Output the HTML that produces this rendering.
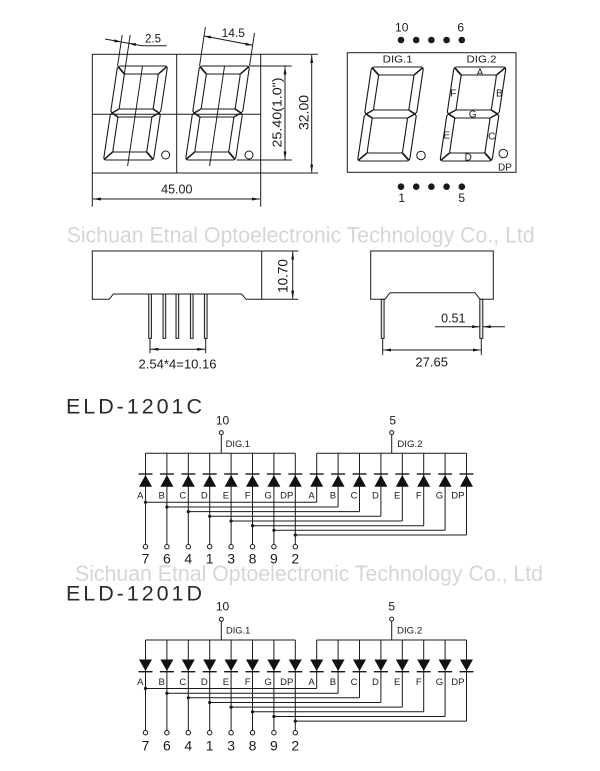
<!DOCTYPE html>
<html>
<head>
<meta charset="utf-8">
<style>
html,body{margin:0;padding:0;background:#fff;}
svg{display:block}
</style>
</head>
<body>
<svg width="600" height="771" viewBox="0 0 600 771" xmlns="http://www.w3.org/2000/svg" font-family="'Liberation Sans', Arial, sans-serif">
<defs>
  <marker id="a" viewBox="0 0 8 3" refX="8" refY="1.5" markerWidth="8" markerHeight="3" markerUnits="userSpaceOnUse" orient="auto-start-reverse">
    <path d="M0,0 L8,1.5 L0,3 Z" fill="#1a1a1a"/>
  </marker>
  <g id="dg" fill="none" stroke="#1a1a1a" stroke-width="1.1">
    <path d="M3,-94 H47 Q50,-94 50,-91 V-49 L48.5,-47 L50,-45 V-3 Q50,0 47,0 H3 Q0,0 0,-3 V-45 L1.5,-47 L0,-49 V-91 Q0,-94 3,-94 Z"/>
    <path d="M9,-86 H41 L42,-85 V-52 L41,-51 H9 L8,-52 V-85 Z"/>
    <path d="M9,-43 H41 L42,-42 V-9 L41,-8 H9 L8,-9 V-42 Z"/>
    <path d="M0.9,-93.1 L8,-86 M49.1,-93.1 L42,-86 M0.9,-0.9 L8,-8 M49.1,-0.9 L42,-8 M1.5,-47 L8,-51 M1.5,-47 L8,-43 M48.5,-47 L42,-51 M48.5,-47 L42,-43" stroke-width="1.6"/>
  </g>
  <g id="du">
    <path d="M-7,0 H7" stroke="#1a1a1a" stroke-width="1.4" fill="none"/>
    <path d="M0,1 L6.5,12.7 L-6.5,12.7 Z" fill="#111"/>
  </g>
  <g id="dd">
    <path d="M-6.5,0 L6.5,0 L0,11.5 Z" fill="#111"/>
    <path d="M-7,12.2 H7" stroke="#1a1a1a" stroke-width="1.4" fill="none"/>
  </g>
</defs>
<rect width="600" height="771" fill="#fff"/>

<!-- watermarks -->
<text x="66.7" y="242.5" font-size="22" fill="#d6d6d6" textLength="468" lengthAdjust="spacingAndGlyphs">Sichuan Etnal Optoelectronic Technology Co., Ltd</text>
<text x="75" y="581" font-size="22" fill="#d6d6d6" textLength="468" lengthAdjust="spacingAndGlyphs">Sichuan Etnal Optoelectronic Technology Co., Ltd</text>

<!-- ============ TOP LEFT FRONT VIEW ============ -->
<g fill="none" stroke="#1a1a1a" stroke-width="1">
  <rect x="92.3" y="54.3" width="168.4" height="118.7"/>
  <path d="M176.7,54.3 V173 M92.3,114.3 H260.7"/>
  <path d="M260.7,54.3 H318 M260.7,173 H318 M250,66 H291.7 M236.7,160 H291.7 M92.3,173 V206.7 M260.7,173 V206.7"/>
  <path d="M311.7,55 V172.3" marker-start="url(#a)" marker-end="url(#a)"/>
  <path d="M285,66.5 V159.5" marker-start="url(#a)" marker-end="url(#a)"/>
  <path d="M93,199 H260" marker-start="url(#a)" marker-end="url(#a)"/>
  <path d="M105,39 L141.7,45.7 H166.7"/>
  <path d="M204,36 L252.5,45.3"/>
  <circle cx="165.7" cy="155" r="4"/>
  <circle cx="249" cy="155" r="4"/>
</g>
<g fill="#1a1a1a">
  <polygon points="121.3,41.98 114.67,39.24 114.13,42.2"/>
  <polygon points="128.9,43.36 136.07,43.14 135.53,46.1"/>
  <polygon points="204,36 211.18,35.85 210.62,38.79"/>
  <polygon points="252.5,45.3 245.9,42.5 245.3,45.5"/>
</g>
<use href="#dg" transform="translate(103.5,160) skewX(-8.5)"/>
<use href="#dg" transform="translate(185.5,160) skewX(-8.5)"/>
<g transform="translate(103.5,160) skewX(-8.5)" fill="none" stroke="#1a1a1a" stroke-width="1">
  <path d="M0,-125 V-94 M8,-125 V-86 M25,-94 V6"/>
</g>
<g transform="translate(185.5,160) skewX(-8.5)" fill="none" stroke="#1a1a1a" stroke-width="1">
  <path d="M0,-133 V-94 M50,-127 V-94 M25,-94 V6"/>
</g>
<g fill="#1a1a1a">
  <text x="153" y="42.5" font-size="11.5" text-anchor="middle">2.5</text>
  <text x="233.3" y="37.2" font-size="12" text-anchor="middle">14.5</text>
  <text x="176.8" y="193.3" font-size="12.5" text-anchor="middle">45.00</text>
  <text transform="translate(308.3,112.5) rotate(-90)" font-size="14" text-anchor="middle">32.00</text>
  <text transform="translate(281.5,112.5) rotate(-90)" font-size="13" text-anchor="middle" textLength="70" lengthAdjust="spacingAndGlyphs">25.40(1.0")</text>
</g>

<!-- ============ TOP RIGHT PIN VIEW ============ -->
<g fill="none" stroke="#1a1a1a" stroke-width="1">
  <rect x="347.3" y="52.7" width="168.7" height="119.6"/>
  <circle cx="421" cy="155.5" r="4.3"/>
  <circle cx="503.3" cy="153.5" r="4.3"/>
</g>
<use href="#dg" transform="translate(357.5,161) skewX(-8.5) scale(1.04,1)"/>
<use href="#dg" transform="translate(440,161) skewX(-8.5) scale(1.04,1)"/>
<g fill="#1a1a1a">
  <circle cx="401" cy="40" r="3.3"/><circle cx="416.2" cy="40" r="3.3"/><circle cx="431.4" cy="40" r="3.3"/><circle cx="446.6" cy="40" r="3.3"/><circle cx="461.8" cy="40" r="3.3"/>
  <circle cx="401" cy="186.7" r="3.3"/><circle cx="416.2" cy="186.7" r="3.3"/><circle cx="431.4" cy="186.7" r="3.3"/><circle cx="446.6" cy="186.7" r="3.3"/><circle cx="461.8" cy="186.7" r="3.3"/>
  <text x="401.7" y="31.7" font-size="12" text-anchor="middle">10</text>
  <text x="460.7" y="31.7" font-size="12" text-anchor="middle">6</text>
  <text x="401.7" y="202" font-size="12" text-anchor="middle">1</text>
  <text x="461.7" y="202" font-size="12" text-anchor="middle">5</text>
  <text x="397.7" y="62.7" font-size="10" text-anchor="middle" textLength="30" lengthAdjust="spacingAndGlyphs">DIG.1</text>
  <text x="481.5" y="62.7" font-size="10" text-anchor="middle" textLength="30" lengthAdjust="spacingAndGlyphs">DIG.2</text>
  <g font-size="10" text-anchor="middle">
    <text x="480" y="75.3">A</text>
    <text x="499.3" y="96.3">B</text>
    <text x="453.3" y="96.3">F</text>
    <text x="472.7" y="117.6">G</text>
    <text x="446.7" y="138.6">E</text>
    <text x="491.7" y="139.3">C</text>
    <text x="468.3" y="160.3">D</text>
    <text x="505" y="170.3">DP</text>
  </g>
</g>

<!-- ============ SIDE VIEWS ============ -->
<g fill="none" stroke="#1a1a1a" stroke-width="1">
  <path d="M92.3,251 L261.7,251 L261.7,299.3 L246,299.3 L241.7,294 L113.3,294 L109.3,299.3 L92.3,299.3 Z"/>
  <path d="M261.7,251 H298.3 M261.7,299.3 H298.3"/>
  <path d="M292.7,251.7 V298.6" marker-start="url(#a)" marker-end="url(#a)"/>
  <g fill="#e8e8e8">
    <rect x="148.7" y="294" width="2.7" height="44.3"/>
    <rect x="163" y="294" width="2.7" height="44.3"/>
    <rect x="176" y="294" width="2.7" height="44.3"/>
    <rect x="190.4" y="294" width="2.7" height="44.3"/>
    <rect x="204.4" y="294" width="2.7" height="44.3"/>
  </g>
  <path d="M150,338.3 V353.3 M205.7,338.3 V353.3"/>
  <path d="M150.5,349.3 H205.2" marker-start="url(#a)" marker-end="url(#a)"/>

  <path d="M370.7,251 L493.3,251 L493.3,299.3 L480,299.3 L475,292.7 L390,292.7 L385,299.3 L370.7,299.3 Z"/>
  <g fill="#e8e8e8">
    <rect x="381.3" y="299.3" width="2.8" height="39"/>
    <rect x="479.8" y="299.3" width="3" height="39"/>
  </g>
  <path d="M382.7,338.3 V355 M481.3,338.3 V355"/>
  <path d="M383.2,350 H480.8" marker-start="url(#a)" marker-end="url(#a)"/>
  <path d="M435,326.7 H479.8" marker-end="url(#a)"/>
  <path d="M505,326.7 H482.8" marker-end="url(#a)"/>
</g>
<g fill="#1a1a1a">
  <text transform="translate(287.7,276) rotate(-90)" font-size="13.5" text-anchor="middle">10.70</text>
  <text x="177.5" y="368.3" font-size="13" text-anchor="middle" textLength="78" lengthAdjust="spacingAndGlyphs">2.54*4=10.16</text>
  <text x="453.3" y="322.7" font-size="12.5" text-anchor="middle">0.51</text>
  <text x="431.7" y="366.7" font-size="13" text-anchor="middle">27.65</text>
</g>

<!-- ============ CIRCUIT C ============ -->
<text x="66" y="413.3" font-family="'Liberation Sans', Arial, sans-serif" font-size="21.5" fill="#2a2a2a" textLength="136" lengthAdjust="spacing">ELD-1201C</text>
<g fill="none" stroke="#1a1a1a" stroke-width="1">
  <path d="M145.5,453.3H295.3M316.7,453.3H466.5M221.3,434.7V453.3M391.7,434.7V453.3"/>
  <path d="M145.5,453.3V544.5M166.9,453.3V544.5M188.3,453.3V544.5M209.7,453.3V544.5M231.1,453.3V544.5M252.5,453.3V544.5M273.9,453.3V544.5M295.3,453.3V544.5"/>
  <path d="M316.7,453.3V502.3M338.1,453.3V507M359.5,453.3V511.6M380.9,453.3V516.3M402.3,453.3V521M423.7,453.3V525.7M445.1,453.3V530.3M466.5,453.3V535"/>
  <path d="M145.5,502.3H316.7M166.9,507H338.1M188.3,511.6H359.5M209.7,516.3H380.9M231.1,521H402.3M252.5,525.7H423.7M273.9,530.3H445.1M295.3,535H466.5"/>
  <g fill="#fff">
    <circle cx="221.3" cy="432.6" r="2"/>
    <circle cx="391.7" cy="432.6" r="2"/>
    <circle cx="145.5" cy="546.7" r="2.2"/><circle cx="166.9" cy="546.7" r="2.2"/><circle cx="188.3" cy="546.7" r="2.2"/><circle cx="209.7" cy="546.7" r="2.2"/>
    <circle cx="231.1" cy="546.7" r="2.2"/><circle cx="252.5" cy="546.7" r="2.2"/><circle cx="273.9" cy="546.7" r="2.2"/><circle cx="295.3" cy="546.7" r="2.2"/>
  </g>
</g>
<g fill="#1a1a1a">
  <circle cx="145.5" cy="502.3" r="1.6"/><circle cx="166.9" cy="507" r="1.6"/><circle cx="188.3" cy="511.6" r="1.6"/><circle cx="209.7" cy="516.3" r="1.6"/>
  <circle cx="231.1" cy="521" r="1.6"/><circle cx="252.5" cy="525.7" r="1.6"/><circle cx="273.9" cy="530.3" r="1.6"/><circle cx="295.3" cy="535" r="1.6"/>
</g>
<use href="#du" x="145.5" y="474"/><use href="#du" x="166.9" y="474"/><use href="#du" x="188.3" y="474"/><use href="#du" x="209.7" y="474"/>
<use href="#du" x="231.1" y="474"/><use href="#du" x="252.5" y="474"/><use href="#du" x="273.9" y="474"/><use href="#du" x="295.3" y="474"/>
<use href="#du" x="316.7" y="474"/><use href="#du" x="338.1" y="474"/><use href="#du" x="359.5" y="474"/><use href="#du" x="380.9" y="474"/>
<use href="#du" x="402.3" y="474"/><use href="#du" x="423.7" y="474"/><use href="#du" x="445.1" y="474"/><use href="#du" x="466.5" y="474"/>
<g fill="#1a1a1a">
  <text x="222.5" y="424.3" font-size="12" text-anchor="middle">10</text>
  <text x="392.7" y="424.3" font-size="12" text-anchor="middle">5</text>
  <text x="225.7" y="447" font-size="9" textLength="24.3" lengthAdjust="spacingAndGlyphs">DIG.1</text>
  <text x="397.3" y="447" font-size="9" textLength="25.3" lengthAdjust="spacingAndGlyphs">DIG.2</text>
  <g font-size="9.5" text-anchor="end">
    <text x="143.5" y="498.3">A</text><text x="164.9" y="498.3">B</text><text x="186.3" y="498.3">C</text><text x="207.7" y="498.3">D</text>
    <text x="229.1" y="498.3">E</text><text x="250.5" y="498.3">F</text><text x="271.9" y="498.3">G</text><text x="293.3" y="498.3">DP</text>
    <text x="314.7" y="498.3">A</text><text x="336.1" y="498.3">B</text><text x="357.5" y="498.3">C</text><text x="378.9" y="498.3">D</text>
    <text x="400.3" y="498.3">E</text><text x="421.7" y="498.3">F</text><text x="443.1" y="498.3">G</text><text x="464.5" y="498.3">DP</text>
  </g>
  <g font-size="14" text-anchor="middle">
    <text x="145.5" y="563.3">7</text><text x="166.9" y="563.3">6</text><text x="188.3" y="563.3">4</text><text x="209.7" y="563.3">1</text>
    <text x="231.1" y="563.3">3</text><text x="252.5" y="563.3">8</text><text x="273.9" y="563.3">9</text><text x="295.3" y="563.3">2</text>
  </g>
</g>

<!-- ============ CIRCUIT D ============ -->
<text x="66" y="600.7" font-family="'Liberation Sans', Arial, sans-serif" font-size="21.5" fill="#2a2a2a" textLength="136" lengthAdjust="spacing">ELD-1201D</text>
<g fill="none" stroke="#1a1a1a" stroke-width="1">
  <path d="M145.5,640H295.3M316.7,640H466.5M221.3,621.4V640M391.7,621.2V640"/>
  <path d="M145.5,640V730.5M166.9,640V730.5M188.3,640V730.5M209.7,640V730.5M231.1,640V730.5M252.5,640V730.5M273.9,640V730.5M295.3,640V730.5"/>
  <path d="M316.7,640V688.5M338.1,640V693.2M359.5,640V697.8M380.9,640V702.5M402.3,640V707.1M423.7,640V711.8M445.1,640V716.5M466.5,640V721.1"/>
  <path d="M145.5,688.5H316.7M166.9,693.2H338.1M188.3,697.8H359.5M209.7,702.5H380.9M231.1,707.1H402.3M252.5,711.8H423.7M273.9,716.5H445.1M295.3,721.1H466.5"/>
  <g fill="#fff">
    <circle cx="221.3" cy="619.3" r="2"/>
    <circle cx="391.7" cy="619.1" r="2"/>
    <circle cx="145.5" cy="732.7" r="2.2"/><circle cx="166.9" cy="732.7" r="2.2"/><circle cx="188.3" cy="732.7" r="2.2"/><circle cx="209.7" cy="732.7" r="2.2"/>
    <circle cx="231.1" cy="732.7" r="2.2"/><circle cx="252.5" cy="732.7" r="2.2"/><circle cx="273.9" cy="732.7" r="2.2"/><circle cx="295.3" cy="732.7" r="2.2"/>
  </g>
</g>
<g fill="#1a1a1a">
  <circle cx="145.5" cy="688.5" r="1.6"/><circle cx="166.9" cy="693.2" r="1.6"/><circle cx="188.3" cy="697.8" r="1.6"/><circle cx="209.7" cy="702.5" r="1.6"/>
  <circle cx="231.1" cy="707.1" r="1.6"/><circle cx="252.5" cy="711.8" r="1.6"/><circle cx="273.9" cy="716.5" r="1.6"/><circle cx="295.3" cy="721.1" r="1.6"/>
</g>
<use href="#dd" x="145.5" y="659.5"/><use href="#dd" x="166.9" y="659.5"/><use href="#dd" x="188.3" y="659.5"/><use href="#dd" x="209.7" y="659.5"/>
<use href="#dd" x="231.1" y="659.5"/><use href="#dd" x="252.5" y="659.5"/><use href="#dd" x="273.9" y="659.5"/><use href="#dd" x="295.3" y="659.5"/>
<use href="#dd" x="316.7" y="659.5"/><use href="#dd" x="338.1" y="659.5"/><use href="#dd" x="359.5" y="659.5"/><use href="#dd" x="380.9" y="659.5"/>
<use href="#dd" x="402.3" y="659.5"/><use href="#dd" x="423.7" y="659.5"/><use href="#dd" x="445.1" y="659.5"/><use href="#dd" x="466.5" y="659.5"/>
<g fill="#1a1a1a">
  <text x="222.5" y="610.7" font-size="12" text-anchor="middle">10</text>
  <text x="391.7" y="610.7" font-size="12" text-anchor="middle">5</text>
  <text x="226" y="633.5" font-size="9" textLength="24.3" lengthAdjust="spacingAndGlyphs">DIG.1</text>
  <text x="397" y="633.3" font-size="9" textLength="25.3" lengthAdjust="spacingAndGlyphs">DIG.2</text>
  <g font-size="9.5" text-anchor="end">
    <text x="143.5" y="685">A</text><text x="164.9" y="685">B</text><text x="186.3" y="685">C</text><text x="207.7" y="685">D</text>
    <text x="229.1" y="685">E</text><text x="250.5" y="685">F</text><text x="271.9" y="685">G</text><text x="293.3" y="685">DP</text>
    <text x="314.7" y="685">A</text><text x="336.1" y="685">B</text><text x="357.5" y="685">C</text><text x="378.9" y="685">D</text>
    <text x="400.3" y="685">E</text><text x="421.7" y="685">F</text><text x="443.1" y="685">G</text><text x="464.5" y="685">DP</text>
  </g>
  <g font-size="14" text-anchor="middle">
    <text x="145.5" y="750.7">7</text><text x="166.9" y="750.7">6</text><text x="188.3" y="750.7">4</text><text x="209.7" y="750.7">1</text>
    <text x="231.1" y="750.7">3</text><text x="252.5" y="750.7">8</text><text x="273.9" y="750.7">9</text><text x="295.3" y="750.7">2</text>
  </g>
</g>
</svg>
</body>
</html>
